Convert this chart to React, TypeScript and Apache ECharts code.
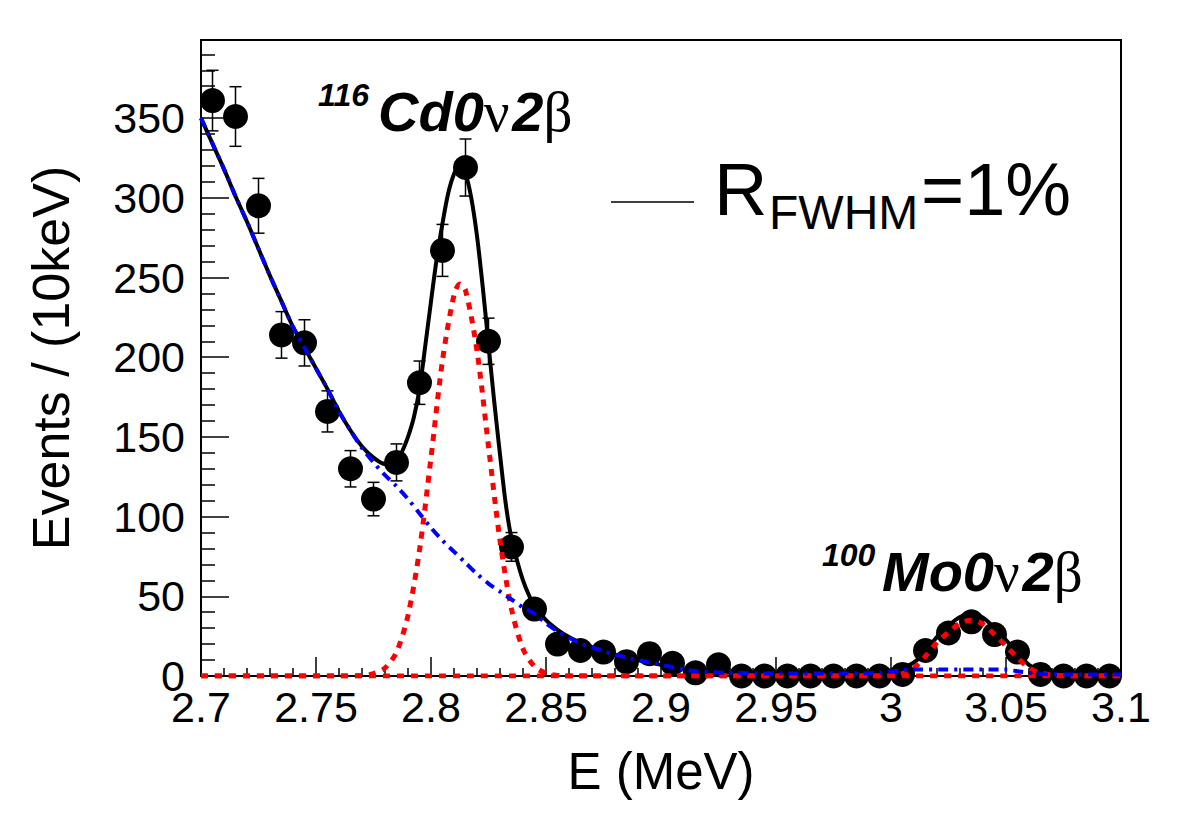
import React, { useEffect, useRef } from "react";
import * as echarts from "echarts";

// Histogram (10 keV bins)
const binCenters = [
  2.705, 2.715, 2.725, 2.735, 2.745, 2.755, 2.765, 2.775, 2.785, 2.795,
  2.805, 2.815, 2.825, 2.835, 2.845, 2.855, 2.865, 2.875, 2.885, 2.895,
  2.905, 2.915, 2.925, 2.935, 2.945, 2.955, 2.965, 2.975, 2.985, 2.995,
  3.005, 3.015, 3.025, 3.035, 3.045, 3.055, 3.065, 3.075, 3.085, 3.095,
];
const counts = [
  361, 351, 295, 214, 209, 166, 130, 111, 134, 184,
  267, 319, 210, 81, 42, 20, 16, 15, 9, 14,
  8, 2, 7, 0, 0, 0, 0, 0, 0, 0,
  1, 16, 27, 34, 26, 15, 1, 0, 0, 0,
];
const countErrors = [
  19, 18.7, 17.2, 14.6, 14.5, 12.9, 11.4, 10.5, 11.6, 13.6,
  16.3, 17.9, 14.5, 9, 6.5, 4.5, 4, 3.9, 3, 3.7,
  2.8, 1.4, 2.6, 0, 0, 0, 0, 0, 0, 0,
  1, 4, 5.2, 5.8, 5.1, 3.9, 1, 0, 0, 0,
];

// Total fit (black solid)
const totalE = [
  2.7, 2.705, 2.71, 2.715, 2.72, 2.725, 2.73, 2.735, 2.74, 2.745, 2.75, 2.755, 2.76, 2.765,
  2.77, 2.775, 2.78, 2.785, 2.7875, 2.79, 2.7925, 2.795, 2.7975, 2.8, 2.8025, 2.805, 2.8075,
  2.81, 2.8125, 2.815, 2.8175, 2.82, 2.8225, 2.825, 2.8275, 2.83, 2.8325, 2.835, 2.8375,
  2.84, 2.8425, 2.845, 2.85, 2.855, 2.86, 2.865, 2.87, 2.875, 2.88, 2.885, 2.89, 2.895,
  2.9, 2.905, 2.91, 2.915, 2.92, 2.93, 2.95, 2.98, 2.995, 3.0, 3.005, 3.01, 3.015, 3.02,
  3.025, 3.03, 3.035, 3.04, 3.045, 3.05, 3.055, 3.06, 3.065, 3.07, 3.08, 3.1,
];
const totalV = [
  350, 334, 318, 301, 285, 268, 251, 235, 219, 206, 193, 180, 166, 154,
  144, 137, 133, 135, 141, 150, 162, 180, 207, 235, 262, 284, 303,
  315, 321, 315, 300, 276, 244, 208, 172, 139, 108, 86, 72,
  60, 51, 44, 35, 29, 24.5, 21, 18, 15.5, 13.5, 11.5, 10, 8.5,
  7, 5.5, 4, 3, 2.5, 2, 1.5, 1.5, 2.5, 3.5, 5, 8.5, 15.5, 24.5,
  31.5, 37, 39, 36.5, 30, 22.5, 14.5, 7, 3, 1.5, 1, 1,
];

// Background (blue dash-dot)
const bkgE = [
  2.7, 2.705, 2.71, 2.715, 2.72, 2.725, 2.73, 2.735, 2.74, 2.745, 2.75, 2.755, 2.76, 2.765,
  2.77, 2.775, 2.78, 2.785, 2.79, 2.795, 2.8, 2.805, 2.81, 2.815, 2.82, 2.825, 2.83, 2.835,
  2.84, 2.845, 2.85, 2.855, 2.86, 2.865, 2.87, 2.875, 2.88, 2.885, 2.89, 2.895, 2.9, 2.905,
  2.91, 2.915, 2.92, 2.93, 2.95, 2.98, 2.995, 3.005, 3.01, 3.05, 3.055, 3.06, 3.065, 3.08, 3.1,
];
const bkgV = [
  350, 334, 318, 301, 285, 268, 251, 235, 219, 206, 193, 180, 166, 154,
  143, 134, 126, 119, 111, 102, 93, 85, 78, 71, 64, 58, 53, 48,
  43, 39, 33, 28, 24, 20.5, 18, 15.5, 13.5, 11.5, 10, 8.5, 7, 5.5,
  4, 3, 2.5, 2, 1.5, 1.5, 2, 3.5, 4, 4, 3, 2, 1.2, 1, 1,
];

// 116Cd 0v2b peak (red dotted)
const cdE = [
  2.7, 2.76, 2.77, 2.775, 2.78, 2.785, 2.79, 2.795, 2.8, 2.805, 2.81, 2.8125, 2.815,
  2.82, 2.825, 2.83, 2.835, 2.84, 2.845, 2.85, 2.855, 2.86, 2.9, 3.0, 3.1,
];
const cdV = [
  0, 0, 0.3, 1.5, 5, 15, 38, 79, 137, 198, 239, 246, 242,
  204, 144, 85, 42, 17, 6, 1.7, 0.4, 0, 0, 0, 0,
];

// 100Mo 0v2b peak (red dotted)
const moE = [
  2.7, 2.99, 3.0, 3.005, 3.01, 3.015, 3.02, 3.025, 3.03, 3.035, 3.04, 3.045, 3.05,
  3.055, 3.06, 3.065, 3.07, 3.075, 3.08, 3.1,
];
const moV = [
  0, 0, 0.3, 1.5, 5, 12.5, 21, 27.5, 33, 35, 32.5, 26, 18.8,
  11.5, 5, 1.8, 0.5, 0.1, 0, 0,
];

const xTickLabels = ["2.7", "2.75", "2.8", "2.85", "2.9", "2.95", "3", "3.05", "3.1"];
const yTickLabels = ["0", "50", "100", "150", "200", "250", "300", "350"];

const SANS = '"Liberation Sans", Arial, Helvetica, sans-serif';
const SERIF = '"Liberation Serif", "Times New Roman", serif';

const zip = (a: number[], b: number[]) => a.map((v, i) => [v, b[i]]);

export default function App() {
  const ref = useRef<HTMLDivElement>(null);
  useEffect(() => {
    if (!ref.current) return;
    const chart = echarts.init(ref.current, undefined, { renderer: "svg" });

    const pointData = binCenters.map((e, i) => [e, counts[i]]);
    const errData = binCenters
      .map((e, i) => [e, counts[i], countErrors[i]])
      .filter((d) => d[2] > 0);

    const peakLabel = (sup: string, main: string, x: number, baseline: number) => [
      {
        type: "text",
        left: x,
        top: baseline - 26,
        z: 20,
        style: {
          text: sup,
          fontFamily: SANS,
          fontStyle: "italic",
          fontWeight: "bold",
          fontSize: 32,
          fill: "#000",
        },
      },
      {
        type: "text",
        left: x + 60,
        top: baseline + 28 - 50,
        z: 20,
        style: {
          text: `{b|${main}}{g|ν}{s| }{b|2}{g|β}`,
          fill: "#000",
          rich: {
            b: { fontFamily: SANS, fontStyle: "italic", fontWeight: "bold", fontSize: 56, fill: "#000" },
            g: { fontFamily: SERIF, fontSize: 57, fill: "#000" },
            s: { fontFamily: SANS, fontSize: 10, fill: "#000" },
          },
        },
      },
    ];

    chart.setOption({
      animation: false,
      backgroundColor: "#fff",
      grid: {
        left: 201,
        right: 61,
        top: 40,
        bottom: 137,
        show: true,
        borderColor: "#000",
        borderWidth: 2,
        backgroundColor: "transparent",
        containLabel: false,
      },
      xAxis: {
        type: "value",
        min: 2.7,
        max: 3.1,
        interval: 0.05,
        name: "E (MeV)",
        nameLocation: "middle",
        nameGap: 70,
        nameTextStyle: { fontFamily: SANS, fontSize: 51, color: "#000" },
        axisLine: { show: true, onZero: false, lineStyle: { color: "#000", width: 2 } },
        axisTick: { show: true, inside: true, length: 19, lineStyle: { color: "#000", width: 1.5 } },
        minorTick: { show: true, splitNumber: 5, length: 8, lineStyle: { color: "#000", width: 1.5 } },
        splitLine: { show: false },
        minorSplitLine: { show: false },
        axisLabel: {
          color: "#000",
          fontFamily: SANS,
          fontSize: 43,
          margin: 9,
          formatter: (v: number) => {
            const idx = Math.round((v - 2.7) / 0.05);
            return xTickLabels[idx] ?? "";
          },
        },
      },
      yAxis: {
        type: "value",
        min: 0,
        max: 399,
        interval: 50,
        name: "Events / (10keV)",
        nameLocation: "middle",
        nameGap: 124,
        nameTextStyle: { fontFamily: SANS, fontSize: 52, color: "#000" },
        axisLine: { show: true, lineStyle: { color: "#000", width: 2 } },
        axisTick: { show: true, inside: true, length: 28, lineStyle: { color: "#000", width: 1.5 } },
        minorTick: { show: true, splitNumber: 5, length: 14, lineStyle: { color: "#000", width: 1.5 } },
        splitLine: { show: false },
        axisLabel: {
          color: "#000",
          fontFamily: SANS,
          fontSize: 43,
          margin: 16,
          showMaxLabel: false,
          formatter: (v: number) => {
            const idx = Math.round(v / 50);
            return Math.abs(v - idx * 50) < 1e-6 ? yTickLabels[idx] ?? "" : "";
          },
        },
      },
      graphic: [
        ...peakLabel("116", "Cd0", 318, 105),
        ...peakLabel("100", "Mo0", 822, 565),
        {
          type: "line",
          z: 20,
          shape: { x1: 611, y1: 202, x2: 694, y2: 202 },
          style: { stroke: "#000", lineWidth: 1.5 },
        },
        {
          type: "text",
          left: 714,
          top: 152,
          z: 20,
          style: { text: "R", fontFamily: SANS, fontSize: 74, fill: "#000" },
        },
        {
          type: "text",
          left: 769,
          top: 188,
          z: 20,
          style: { text: "FWHM", fontFamily: SANS, fontSize: 48, fill: "#000" },
        },
        {
          type: "text",
          left: 921,
          top: 152,
          z: 20,
          style: { text: "=1%", fontFamily: SANS, fontSize: 74, fill: "#000" },
        },
      ],
      series: [
        {
          name: "data",
          type: "scatter",
          data: pointData,
          symbol: "circle",
          symbolSize: 25,
          clip: false,
          itemStyle: { color: "#000", opacity: 1 },
          z: 2,
        },
        {
          name: "errors",
          type: "custom",
          data: errData,
          z: 2,
          clip: false,
          renderItem: (params: any, api: any) => {
            const x = api.value(0);
            const y = api.value(1);
            const e = api.value(2);
            const top = api.coord([x, y + e]);
            const bot = api.coord([x, Math.max(0, y - e)]);
            const hw = 6;
            const st = { stroke: "#000", lineWidth: 1.5 };
            return {
              type: "group",
              children: [
                { type: "line", shape: { x1: top[0], y1: top[1], x2: bot[0], y2: bot[1] }, style: st },
                { type: "line", shape: { x1: top[0] - hw, y1: top[1], x2: top[0] + hw, y2: top[1] }, style: st },
                { type: "line", shape: { x1: bot[0] - hw, y1: bot[1], x2: bot[0] + hw, y2: bot[1] }, style: st },
              ],
            };
          },
        },
        {
          name: "total",
          type: "line",
          data: zip(totalE, totalV),
          showSymbol: false,
          smooth: 0.3,
          lineStyle: { color: "#000", width: 4 },
          z: 3,
        },
        {
          name: "cd",
          type: "line",
          data: zip(cdE, cdV),
          showSymbol: false,
          smooth: 0.3,
          lineStyle: { color: "#ff0000", width: 5, type: [7, 7] },
          z: 4,
        },
        {
          name: "mo",
          type: "line",
          data: zip(moE, moV),
          showSymbol: false,
          smooth: 0.3,
          lineStyle: { color: "#ff0000", width: 5, type: [7, 7] },
          z: 4,
        },
        {
          name: "bkg",
          type: "line",
          data: zip(bkgE, bkgV),
          showSymbol: false,
          smooth: 0.3,
          lineStyle: { color: "#0000ff", width: 4, type: [10, 6, 3, 6] },
          z: 5,
        },
      ],
    });
    return () => chart.dispose();
  }, []);

  return (
    <div
      ref={ref}
      style={{ position: "fixed", left: 0, top: 0, width: 1182, height: 813, background: "#fff" }}
    />
  );
}
